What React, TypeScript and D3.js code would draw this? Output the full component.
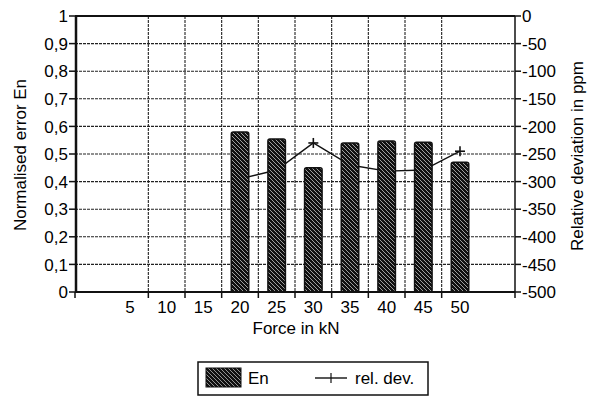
import React from "react";
import * as d3 from "d3";

const forceLabels = ["5", "10", "15", "20", "25", "30", "35", "40", "45", "50"];
const enValues: (number | null)[] = [null, null, null, 0.58, 0.554, 0.45, 0.54, 0.547, 0.543, 0.47];
const relDevValues: (number | null)[] = [null, null, null, -295, -279, -230, -270, -281, -279, -245];
const leftTicks = [0, 0.1, 0.2, 0.3, 0.4, 0.5, 0.6, 0.7, 0.8, 0.9, 1];
const rightTicks = [0, -50, -100, -150, -200, -250, -300, -350, -400, -450, -500];

const W = 597, H = 397;
const L = 75, R = 515, T = 16, B = 292;
const FONT = "'Liberation Sans', Arial, sans-serif";
const FS = 17;

export default function App() {
  const domain = ["__start", ...forceLabels, "__end"];
  const x = d3.scaleBand<string>().domain(domain).range([L, R]).paddingInner(0).paddingOuter(0);
  const yL = d3.scaleLinear().domain([0, 1]).range([B, T]);
  const yR = d3.scaleLinear().domain([-500, 0]).range([B, T]);
  const bw = x.bandwidth();
  const barW = 17.5;

  const innerEdges = forceLabels.slice(1).map((f) => x(f)!);

  const linePts = forceLabels
    .map((f, i) => ({ f, v: relDevValues[i] }))
    .filter((d) => d.v !== null) as { f: string; v: number }[];
  const line = d3
    .line<{ f: string; v: number }>()
    .x((d) => x(d.f)! + bw / 2)
    .y((d) => yR(d.v));

  const fmt = (v: number) => (v === 0 || v === 1 ? String(v) : v.toFixed(1).replace(".", ","));

  return (
    <svg
      width={W}
      height={H}
      style={{ position: "absolute", left: 0, top: 0, background: "#fff" }}
      fontFamily={FONT}
    >
      <defs>
        <pattern id="hatch" patternUnits="userSpaceOnUse" width="4" height="4">
          <rect width="4" height="4" fill="#111" />
          <path d="M0,0 L4,4 M-1,3 L1,5 M3,-1 L5,1" stroke="#ddd" strokeWidth="0.7" />
        </pattern>
        <pattern id="hatchL" patternUnits="userSpaceOnUse" width="4" height="4">
          <rect width="4" height="4" fill="#111" />
          <path d="M0,0 L4,4 M-1,3 L1,5 M3,-1 L5,1" stroke="#ccc" strokeWidth="0.7" />
        </pattern>
      </defs>

      {leftTicks.slice(1, -1).map((t) => (
        <line key={"hg" + t} x1={L} x2={R} y1={yL(t)} y2={yL(t)} stroke="#222" strokeWidth={1.1} strokeDasharray="3,1" />
      ))}
      {innerEdges.map((e, i) => (
        <line key={"vg" + i} x1={e} x2={e} y1={T} y2={B} stroke="#222" strokeWidth={1.1} strokeDasharray="3,1" />
      ))}

      <path d={line(linePts) || ""} fill="none" stroke="#111" strokeWidth={1.4} />
      {linePts.map((d) => {
        const cx = x(d.f)! + bw / 2;
        const cy = yR(d.v);
        return (
          <g key={"m" + d.f} stroke="#111" strokeWidth={1.6}>
            <line x1={cx - 5} x2={cx + 5} y1={cy} y2={cy} />
            <line x1={cx} x2={cx} y1={cy - 5} y2={cy + 5} />
          </g>
        );
      })}

      {forceLabels.map((f, i) => {
        const v = enValues[i];
        if (v === null) return null;
        const cx = x(f)! + bw / 2;
        return (
          <rect
            key={"b" + f}
            x={cx - barW / 2}
            y={yL(v)}
            width={barW}
            height={B - yL(v)}
            rx={2}
            fill="url(#hatch)"
            stroke="#111"
            strokeWidth={1.5}
          />
        );
      })}

      <line x1={L} x2={R} y1={T} y2={T} stroke="#111" strokeWidth={2} />
      <line x1={L} x2={R} y1={B} y2={B} stroke="#111" strokeWidth={2} />
      <line x1={L + 1} x2={L + 1} y1={T} y2={B} stroke="#111" strokeWidth={2.5} />
      <line x1={R} x2={R} y1={T} y2={B} stroke="#111" strokeWidth={1.5} />

      {leftTicks.map((t) => (
        <g key={"lt" + t}>
          <line x1={L - 6} x2={L} y1={yL(t)} y2={yL(t)} stroke="#111" strokeWidth={1.5} />
          <text x={L - 7} y={yL(t)} dy="0.36em" textAnchor="end" fontSize={FS} fill="#000">
            {fmt(t)}
          </text>
        </g>
      ))}

      {rightTicks.map((t) => (
        <g key={"rt" + t}>
          <line x1={R} x2={R + 6} y1={yR(t)} y2={yR(t)} stroke="#111" strokeWidth={1.5} />
          <text x={R + 7} y={yR(t)} dy="0.36em" textAnchor="start" fontSize={FS} fill="#000">
            {t}
          </text>
        </g>
      ))}

      {[L, ...innerEdges, R].map((e, i) => (
        <line key={"xt" + i} x1={e} x2={e} y1={B} y2={B + 6} stroke="#111" strokeWidth={1.5} />
      ))}
      {forceLabels.map((f) => (
        <text key={"xl" + f} x={x(f)! + bw / 2} y={313} textAnchor="middle" fontSize={FS} fill="#000">
          {f}
        </text>
      ))}

      <text x={(L + R) / 2 + 1} y={334} textAnchor="middle" fontSize={FS} fill="#000">
        Force in kN
      </text>
      <text
        transform={`translate(26,${(T + B) / 2 + 1}) rotate(-90)`}
        textAnchor="middle"
        fontSize={FS}
        fill="#000"
      >
        Normalised error En
      </text>
      <text
        transform={`translate(583,${(T + B) / 2 + 2}) rotate(-90)`}
        textAnchor="middle"
        fontSize={FS}
        fill="#000"
      >
        Relative deviation in ppm
      </text>

      <rect x={198} y={362} width={230} height={33} fill="#fff" stroke="#111" strokeWidth={1.5} />
      <rect x={206} y={368} width={35} height={19} fill="url(#hatchL)" stroke="#111" strokeWidth={1} />
      <text x={248} y={384} fontSize={FS} fill="#000">
        En
      </text>
      <line x1={315} x2={347} y1={378} y2={378} stroke="#111" strokeWidth={1.4} />
      <line x1={331} x2={331} y1={373} y2={383} stroke="#111" strokeWidth={1.2} />
      <text x={355} y={384} fontSize={FS} fill="#000">
        rel. dev.
      </text>
    </svg>
  );
}
